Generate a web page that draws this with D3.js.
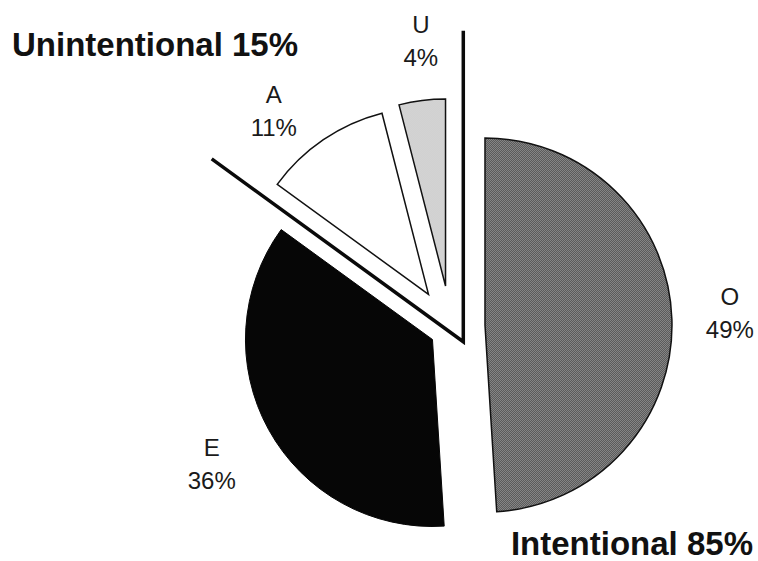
<!DOCTYPE html>
<html>
<head>
<meta charset="utf-8">
<script src="https://cdn.jsdelivr.net/npm/d3@7"></script>
<style>
  html, body { margin: 0; padding: 0; background: #ffffff; }
  svg { display: block; font-family: Arial, "Liberation Sans", Helvetica, sans-serif; }
</style>
</head>
<body>
<svg id="chart" width="758" height="561"></svg>
<script>
// Causes, share of all cases (%), clockwise from 12 o'clock
const categories = ["O", "E", "A", "U"];
const shares = [49, 36, 11, 4];
const group = ["Intentional", "Intentional", "Unintentional", "Unintentional"];
const groupNames = ["Intentional", "Unintentional"];
const groupShares = [85, 15];

const W = 758, H = 561;
const svg = d3.select("#chart");
const defs = svg.append("defs");

// dithered tones used by the printed chart
function dither(id, a, b) {
  const p = defs.append("pattern").attr("id", id)
    .attr("width", 2).attr("height", 2).attr("patternUnits", "userSpaceOnUse");
  p.append("rect").attr("width", 2).attr("height", 2).attr("fill", a);
  p.append("rect").attr("width", 1).attr("height", 1).attr("fill", b);
  p.append("rect").attr("x", 1).attr("y", 1).attr("width", 1).attr("height", 1).attr("fill", b);
}
dither("ditherDark", "#545454", "#8c8c8c");
dither("ditherLight", "#c0c0c0", "#e4e4e4");

const style = {
  O: { fill: "url(#ditherDark)", stroke: "#111", sw: 1.5 },
  E: { fill: "#060606", stroke: "#060606", sw: 1 },
  A: { fill: "#ffffff", stroke: "#111", sw: 1.5 },
  U: { fill: "url(#ditherLight)", stroke: "#111", sw: 1.5 }
};

// pie centre and how far each slice is pulled out (angle in degrees clockwise from top, distance px)
const cx = 457, cy = 326, R = 187;
const explode = { O: null, E: null, A: [318, 42.6], U: [344, 41.6] };
const explodeDist = 28;
const labelDist = 245;
const labelNudge = { O: [0, 0], E: [-6, 10], A: [-17, 23], U: [6, 2] };

const polar = (deg, r) => {
  const a = deg * Math.PI / 180;
  return [r * Math.sin(a), -r * Math.cos(a)];
};

const pie = d3.pie().sort(null).value(d => d.v).startAngle(0).endAngle(2 * Math.PI);
const arc = d3.arc().innerRadius(0).outerRadius(R);
const arcs = pie(categories.map((c, i) => ({ c, v: shares[i] })));

const g = svg.append("g");

arcs.forEach(a => {
  const c = a.data.c;
  const mid = (a.startAngle + a.endAngle) / 2 * 180 / Math.PI;
  const off = explode[c] ? polar(explode[c][0], explode[c][1]) : polar(mid, explodeDist);
  const ox = cx + off[0], oy = cy + off[1];
  const s = style[c];
  g.append("path")
    .attr("d", arc(a))
    .attr("transform", `translate(${ox},${oy})`)
    .attr("fill", s.fill)
    .attr("stroke", s.stroke)
    .attr("stroke-width", s.sw)
    .attr("stroke-linejoin", "miter");

  const lp = polar(mid, labelDist);
  const lx = ox + lp[0] + labelNudge[c][0];
  const ly = oy + lp[1] + labelNudge[c][1];
  const t = g.append("text")
    .attr("text-anchor", "middle")
    .attr("font-size", 24)
    .attr("fill", "#1a1a1a");
  t.append("tspan").attr("x", lx).attr("y", ly - 12).text(c);
  t.append("tspan").attr("x", lx).attr("y", ly + 21).text(a.data.v + "%");
});

// bracket around the unintentional slices, along the group's boundary angles
const total = d3.sum(shares);
const intentionalShare = d3.sum(shares.filter((v, i) => group[i] === "Intentional"));
const bracketAngles = [intentionalShare / total * 360, 360];
const vx = cx + 6.3, vy = cy + 15.7, L = 311;
const ends = bracketAngles.map(deg => polar(deg, L));
svg.append("path")
  .attr("d", `M${vx + ends[0][0]},${vy + ends[0][1]}L${vx},${vy}L${vx + ends[1][0]},${vy + ends[1][1]}`)
  .attr("fill", "none").attr("stroke", "#0a0a0a").attr("stroke-width", 3.5)
  .attr("stroke-linejoin", "miter").attr("stroke-linecap", "butt");

// group totals
svg.append("text")
  .attr("x", 12).attr("y", 56)
  .attr("font-size", 33).attr("font-weight", "bold").attr("fill", "#111")
  .text(`${groupNames[1]} ${groupShares[1]}%`);
svg.append("text")
  .attr("x", 753).attr("y", 555).attr("text-anchor", "end")
  .attr("font-size", 33).attr("font-weight", "bold").attr("fill", "#111")
  .text(`${groupNames[0]} ${groupShares[0]}%`);
</script>
</body>
</html>
